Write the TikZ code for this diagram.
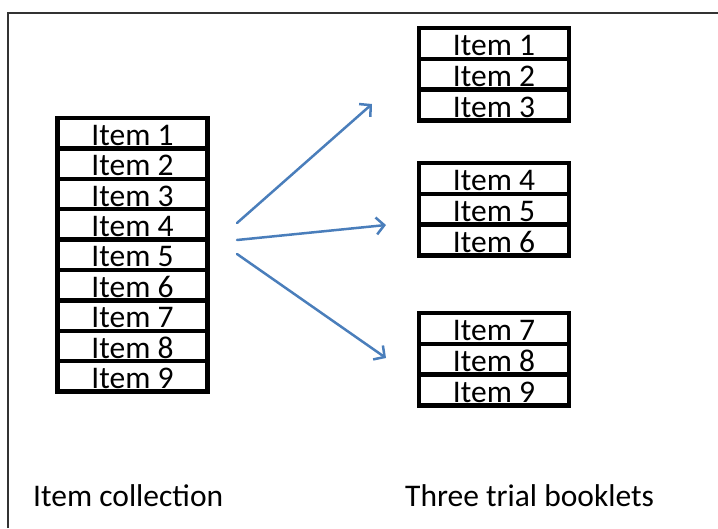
\documentclass[tikz,border=0pt]{standalone}
\usepackage{fontspec}
\setmainfont{Carlito}
\usetikzlibrary{arrows.meta}
\definecolor{arrblue}{HTML}{4A7EBB}
\begin{document}
\begin{tikzpicture}[x=1pt,y=-1pt,
  cell/.style={draw=black, line width=4.5pt, fill=white, inner sep=0pt,
    minimum width=150pt, text height=24pt, text depth=0pt,
    font=\fontsize{31.5}{36}\selectfont},
  lcell/.style={cell, minimum height=30.4pt},
  rcell/.style={cell, minimum height=30.8pt},
  caption/.style={inner sep=0pt, anchor=base west, font=\fontsize{31.5}{36}\selectfont},
  arr/.style={draw=arrblue, line width=2.5pt, line cap=round,
    -{Straight Barb[length=8pt,width=17pt,line width=2.5pt]}},
  frame/.style={draw=black!80, line width=1.5pt}]
\useasboundingbox (0,0) rectangle (718,528);
\draw[frame] (8,528) -- (8,13) -- (718,13);
% left stack
\foreach \i in {1,...,9}{
  \node[lcell] (L\i) at (132.5,{118+30.4*(\i-0.5)}) {Item \i};
}
% right stacks
\foreach \i/\t in {1/28,4/163,7/313}{
  \pgfmathtruncatemacro{\ib}{\i+1}
  \pgfmathtruncatemacro{\ic}{\i+2}
  \node[rcell] (R\i) at (494,{\t+15.4}) {Item \i};
  \node[rcell] (R\ib) at (494,{\t+15.4+30.8}) {Item \ib};
  \node[rcell] (R\ic) at (494,{\t+15.4+61.6}) {Item \ic};
}
% arrows
\coordinate (s1) at (237,223);
\coordinate (s2) at (237,240);
\coordinate (s3) at (237,254);
\coordinate (e1) at (372,104);
\coordinate (e2) at (386,225);
\coordinate (e3) at (386,358);
\draw[arr] (s1) -- (e1);
\draw[arr] (s2) -- (e2);
\draw[arr] (s3) -- (e3);
% captions
\node[caption] (capL) at (33,506) {Item collection};
\node[caption] (capR) at (405,506) {Three trial booklets};
\end{tikzpicture}
\end{document}
